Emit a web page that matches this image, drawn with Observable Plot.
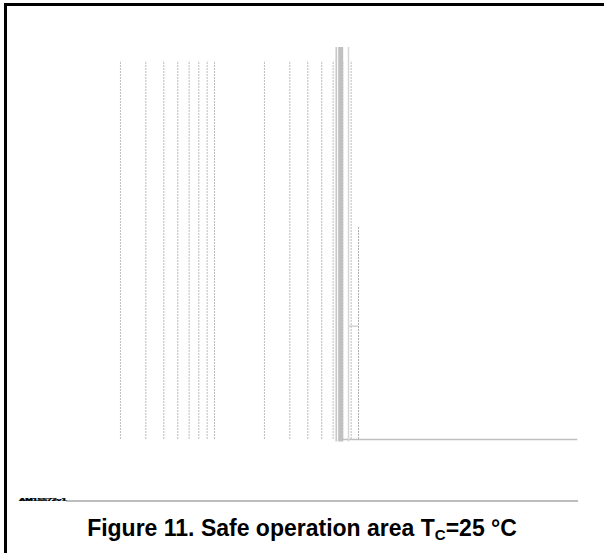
<!DOCTYPE html>
<html>
<head>
<meta charset="utf-8">
<script src="https://cdn.jsdelivr.net/npm/d3@7"></script>
<script src="https://cdn.jsdelivr.net/npm/@observablehq/plot@0.6"></script>
<style>
  html, body { margin: 0; padding: 0; background: #fff; width: 604px; height: 553px; overflow: hidden; }
  #chart { position: absolute; left: 0; top: 0; }
  #frame { position: absolute; left: 4px; top: 3px; width: 600px; height: 550px; box-sizing: border-box;
           border-top: 3px solid #000; border-left: 3px solid #000; }
  #rule { position: absolute; left: 19px; top: 500px; width: 559px; height: 1.5px; background: #bdbdbd; }
  #tag { position: absolute; left: 19px; top: 494px; height: 14px; line-height: 14px; font: 900 9px "Liberation Sans", Arial, sans-serif;
         color: #000; transform: scaleY(0.3); transform-origin: left center; white-space: nowrap; background: #fff;
         -webkit-text-stroke: 0.8px #000; letter-spacing: -0.2px; }
  #caption { position: absolute; left: 0; width: 604px; top: 515px; text-align: center;
             font: bold 23px "Liberation Sans", Arial, sans-serif; color: #000; }
  #caption sub { font-size: 15px; vertical-align: -4px; }
</style>
</head>
<body>
<div id="chart"></div>
<div id="frame"></div>
<div id="rule"></div>
<div id="tag">AM15572v1</div>
<div id="caption">Figure 11. Safe operation area T<sub>C</sub>=25 °C</div>
<script>
// Log-scale x positions of dashed grid lines (missing decade line as in reference)
const gridX = [2, 3, 4, 5, 6, 7, 8, 9, 20, 30, 40, 50, 60, 70, 80];
const gridY = [0.01, 100];
// Partial dashed line at 90
const partialX = [90];
const partialY = [0.01, 1.74];
// Near-vertical SOA curves (collapsed)
const curveX = [63.1, 67.7, 76.7];
const curveWidth = [1.7, 5, 1.5];
const curveColor = ["#c9c9c9", "#c0c0c0", "#d6d6d6"];
const curveY = [0.0094, 140];
// Small horizontal stub
const stubX = [76.7, 90];
const stubY = [0.158];
// Bottom limit line
const baseX = [66, 3000];
const baseY = [0.01];

const curves = curveX.map((x, i) => ({x, w: curveWidth[i], c: curveColor[i]}));

const plot = Plot.plot({
  width: 604,
  height: 460,
  marginLeft: 76.6,
  marginRight: 26.7,
  marginTop: 60.7,
  marginBottom: 21,
  style: {background: "transparent"},
  x: {type: "log", domain: [1, 3000], axis: null},
  y: {type: "log", domain: [0.01, 100], axis: null},
  marks: [
    Plot.ruleX(gridX, {x: d => d, y1: () => gridY[0], y2: () => gridY[1],
      stroke: "#bdbdbd", strokeWidth: 1, strokeDasharray: "2,1"}),
    Plot.ruleX(partialX, {x: d => d, y1: () => partialY[0], y2: () => partialY[1],
      stroke: "#b0b0b0", strokeWidth: 1, strokeDasharray: "2,1"}),
    Plot.ruleY(baseY, {y: d => d, x1: () => baseX[0], x2: () => baseX[1],
      stroke: "#c0c0c0", strokeWidth: 1.5}),
    Plot.ruleY(stubY, {y: d => d, x1: () => stubX[0], x2: () => stubX[1],
      stroke: "#bcbcbc", strokeWidth: 1}),
    Plot.ruleX(curves, {x: "x", y1: () => curveY[0], y2: () => curveY[1],
      stroke: "c", strokeWidth: "w"})
  ]
});
document.getElementById("chart").appendChild(plot);
</script>
</body>
</html>
